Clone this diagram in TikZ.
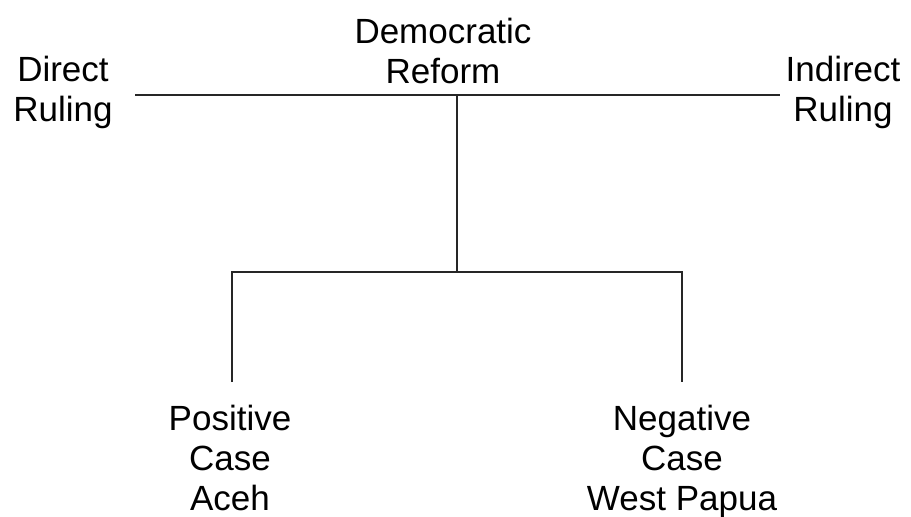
\documentclass[tikz,border=0pt]{standalone}
\usepackage{fontspec}
\setmainfont{Liberation Sans}
\begin{document}
\begin{tikzpicture}[x=1pt,y=-1pt,
  lbl/.style={align=center,inner sep=0pt,font=\fontsize{35}{40}\selectfont},
  ln/.style={line width=1.6pt,draw=black!85}]
\useasboundingbox (0,0) rectangle (911,517);
\node[lbl] (dem) at (443,51) {Democratic\\Reform};
\node[lbl] (dir) at (63,92) {Direct\\Ruling};
\node[lbl] (ind) at (843,92) {Indirect\\Ruling};
\node[lbl] (pos) at (230,458) {Positive\\Case\\Aceh};
\node[lbl] (neg) at (682,461) {Negative\\Case\\West Papua};
\coordinate (hl) at (135,95);
\coordinate (hr) at (780,95);
\coordinate (top) at (457,95);
\coordinate (mid) at (457,272);
\coordinate (bl) at (232,272);
\coordinate (br) at (682,272);
\coordinate (el) at (232,382);
\coordinate (er) at (682,382);
\draw[ln] (hl) -- (hr);
\draw[ln] (top) -- (mid);
\draw[ln] (el) -- (bl) -- (br) -- (er);
\end{tikzpicture}
\end{document}
